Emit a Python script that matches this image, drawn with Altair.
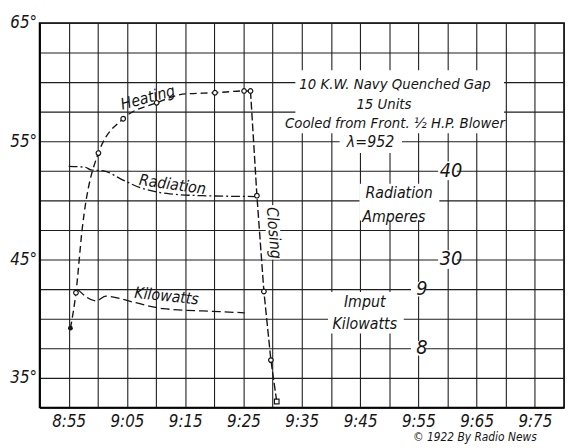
import json
import altair as alt
import pandas as pd

# ---- data (time = minutes after 8:55, as labelled on the chart) ----
x_tick_labels = ["8:55", "9:05", "9:15", "9:25", "9:35", "9:45", "9:55", "9:65", "9:75"]

# Heating (degrees)
heat_t = [0.3, 1.25, 2.3, 5.1, 9.35, 15.1, 20.0, 25.1, 30.1, 31.2]
heat_deg = [39.2, 42.2, 47.5, 54.0, 56.9, 58.25, 59.0, 59.1, 59.25, 59.25]
heat_mark = ["dot", "circle", "none", "circle", "circle", "circle", "none", "circle", "circle", "circle"]

# Closing (degrees)
close_t = [31.2, 32.3, 33.5, 34.7, 35.7]
close_deg = [59.25, 50.4, 42.3, 36.5, 33.0]
close_mark = ["none", "circle", "circle", "circle", "square"]

# Radiation (amperes)
rad_t = [0.0, 2.9, 3.8, 6.0, 8.9, 12.3, 17.3, 22.9, 32.4]
rad_amp = [40.5, 40.4, 40.1, 40.0, 39.1, 38.1, 37.4, 37.2, 37.1]

# Input kilowatts
kw_t = [1.5, 4.7, 6.4, 11.1, 16.2, 25.8, 30.2]
kw_val = [9.0, 8.8, 8.88, 8.78, 8.67, 8.62, 8.6]

amp_ticks = [40, 30]
kw_ticks = [9, 8]

# scale relations between the secondary quantities and the degree grid
AMP_EXPR = "52.5 + (datum.v - 40) * 0.75"
KW_EXPR = "42.5 + (datum.v - 9) * 5"

FONT = "DejaVu Sans Condensed, DejaVu Sans, sans-serif"
INK = "#151515"

xs = alt.Scale(domain=[-5, 85], nice=False, zero=False)
ys = alt.Scale(domain=[32.5, 65], nice=False, zero=False)

x_axis = alt.Axis(
    values=list(range(-5, 90, 5)),
    labelExpr=f"datum.value % 10 == 0 ? {json.dumps(x_tick_labels)}[datum.value / 10] : ''",
    title=None, ticks=False, labelPadding=6, labelOverlap=False, labelFlush=False,
)
y_axis = alt.Axis(
    values=[32.5 + 2.5 * i for i in range(14)],
    labelExpr="datum.value % 10 == 5 ? datum.value + '°' : ''",
    title=None, ticks=False, labelPadding=3, labelOverlap=False, labelFlush=False,
)


def X(field="t"):
    return alt.X(f"{field}:Q", scale=xs, axis=x_axis)


def Y(field="deg"):
    return alt.Y(f"{field}:Q", scale=ys, axis=y_axis)


heat_df = pd.DataFrame({"t": heat_t, "deg": heat_deg, "m": heat_mark})
close_df = pd.DataFrame({"t": close_t, "deg": close_deg, "m": close_mark})
rad_df = pd.DataFrame({"t": rad_t, "v": rad_amp})
kw_df = pd.DataFrame({"t": kw_t, "v": kw_val})

# annotation boxes (white paper behind lettering) and labels
boxes = pd.DataFrame({
    "t": [38.9, 46.5, 49.9, 44.5, 33.8],
    "t2": [74.7, 57.2, 63.6, 57.5, 36.3],
    "deg": [61.0, 55.75, 51.4, 42.25, 49.6],
    "deg2": [55.67, 54.0, 48.3, 38.75, 45.0],
})

labels = pd.DataFrame({
    "t": [13.6, 17.8, 16.8, 56.0, 54.1, 56.0, 51.8, 56.7, 55.8, 50.8, 50.8],
    "deg": [58.67, 51.33, 41.9, 59.83, 58.17, 56.5, 54.92, 50.58, 48.58, 41.42, 39.58],
    "txt": ["Heating", "Radiation", "Kilowatts",
            "10 K.W. Navy Quenched Gap", "15 Units",
            "Cooled from Front. ½ H.P. Blower", "λ=952",
            "Radiation", "Amperes", "Imput", "Kilowatts"],
    "ang": [345, 8, 6, 0, 0, 0, 0, 0, 0, 0, 0],
    "fs": [16, 16, 16, 15, 15, 15, 16, 16, 16, 16, 16],
})

box_layer = alt.Chart(boxes).mark_rect(color="white").encode(
    x=X(), x2="t2:Q", y=Y(), y2="deg2:Q")

heat_line = alt.Chart(heat_df).mark_line(
    color=INK, strokeWidth=1.4, strokeDash=[7, 4], interpolate="monotone"
).encode(x=X(), y=Y())

close_line = alt.Chart(close_df).mark_line(
    color=INK, strokeWidth=1.4, strokeDash=[8, 3]
).encode(x=X(), y=Y())

rad_line = alt.Chart(rad_df).transform_calculate(deg=AMP_EXPR).mark_line(
    color=INK, strokeWidth=1.3, strokeDash=[9, 3, 2, 3], interpolate="monotone"
).encode(x=X(), y=Y())

kw_line = alt.Chart(kw_df).transform_calculate(deg=KW_EXPR).mark_line(
    color=INK, strokeWidth=1.3, strokeDash=[9, 4], interpolate="monotone"
).encode(x=X(), y=Y())

pts = pd.concat([heat_df, close_df], ignore_index=True)

circles = alt.Chart(pts).transform_filter("datum.m == 'circle'").mark_point(
    shape="circle", size=22, filled=True, fill="white", stroke=INK, strokeWidth=1.2, opacity=1
).encode(x=X(), y=Y())

dots = alt.Chart(pts).transform_filter("datum.m == 'dot'").mark_point(
    shape="circle", size=24, filled=True, color=INK, opacity=1
).encode(x=X(), y=Y())

squares = alt.Chart(pts).transform_filter("datum.m == 'square'").mark_point(
    shape="square", size=22, filled=True, fill="white", stroke=INK, strokeWidth=1.2, opacity=1
).encode(x=X(), y=Y())

text_layer = alt.Chart(labels).mark_text(
    font=FONT, fontStyle="italic", color=INK, align="center", baseline="middle"
).encode(x=X(), y=Y(), text="txt:N",
         angle=alt.Angle("ang:Q", scale=None),
         size=alt.Size("fs:Q", scale=None, legend=None))

closing_text = alt.Chart(pd.DataFrame({"t": [35.2], "deg": [47.25], "txt": ["Closing"]})).mark_text(
    font=FONT, fontStyle="italic", fontSize=16, color=INK, angle=85, align="center", baseline="middle"
).encode(x=X(), y=Y(), text="txt:N")

amp_tick_df = pd.DataFrame({"v": amp_ticks})
kw_tick_df = pd.DataFrame({"v": kw_ticks})

amp_bg = alt.Chart(amp_tick_df).transform_calculate(deg=AMP_EXPR, t="65").mark_square(
    size=360, color="white", opacity=1).encode(x=X(), y=Y())
amp_txt = alt.Chart(amp_tick_df).transform_calculate(deg=AMP_EXPR, t="65.6", s="'' + datum.v").mark_text(
    font=FONT, fontStyle="italic", fontSize=20, color=INK, align="center", baseline="middle"
).encode(x=X(), y=Y(), text="s:N")

kw_bg = alt.Chart(kw_tick_df).transform_calculate(deg=KW_EXPR, t="60").mark_square(
    size=220, color="white", opacity=1).encode(x=X(), y=Y())
kw_txt = alt.Chart(kw_tick_df).transform_calculate(deg=KW_EXPR, t="60.6", s="'' + datum.v").mark_text(
    font=FONT, fontStyle="italic", fontSize=20, color=INK, align="center", baseline="middle"
).encode(x=X(), y=Y(), text="s:N")

copyright_txt = alt.Chart(pd.DataFrame({"t": [69.7], "deg": [30.0], "txt": ["© 1922 By Radio News"]})).mark_text(
    font=FONT, fontStyle="italic", fontSize=12, color=INK, align="center", baseline="middle"
).encode(x=X(), y=Y(), text="txt:N")

chart = alt.layer(
    box_layer, rad_line, kw_line, heat_line, close_line,
    circles, dots, squares,
    text_layer, closing_text, amp_bg, amp_txt, kw_bg, kw_txt, copyright_txt,
).properties(
    width=532, height=390,
    autosize=alt.AutoSizeParams(type="none"),
    padding={"left": 32, "top": 12, "right": 1, "bottom": 38},
    background="white",
).configure_view(
    stroke="black", strokeWidth=1.6
).configure_axis(
    grid=True, gridColor="#1e1e1e", gridWidth=1.1, gridOpacity=1,
    domain=True, domainColor="black", domainWidth=1.6,
    labelFont=FONT, labelFontStyle="italic", labelFontSize=17, labelColor=INK,
)

chart.save("out.html", embed_options={"renderer": "svg", "actions": False})
